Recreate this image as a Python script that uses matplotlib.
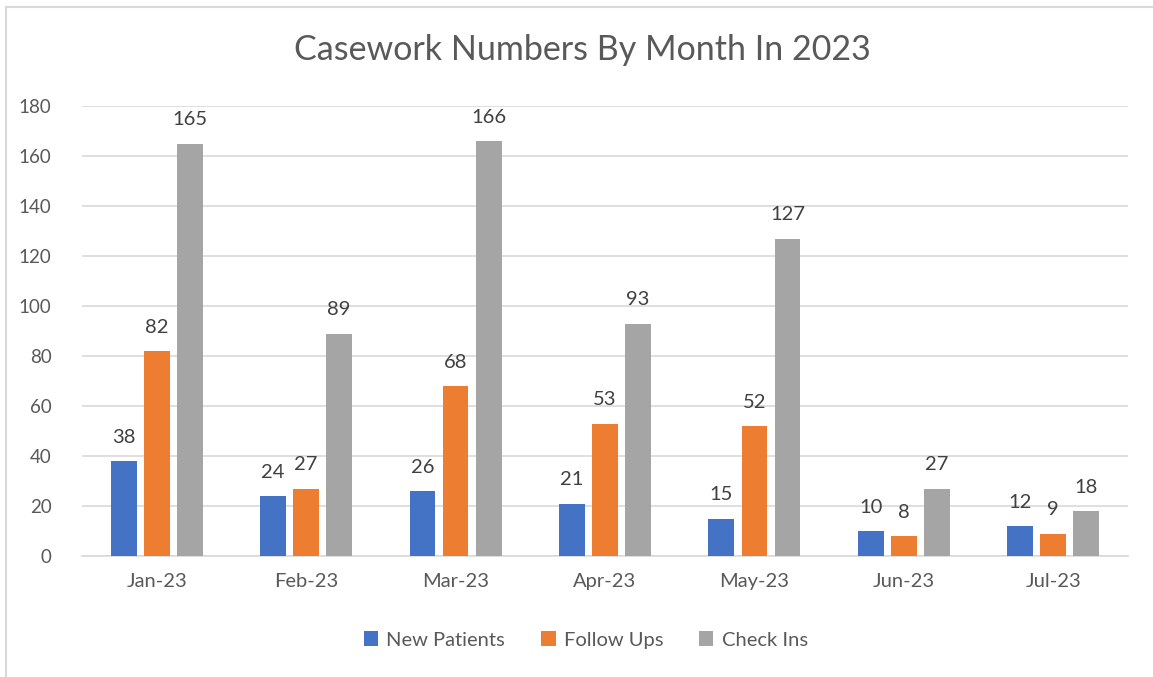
import matplotlib.pyplot as plt
import numpy as np
from matplotlib.lines import Line2D

months = ["Jan-23", "Feb-23", "Mar-23", "Apr-23", "May-23", "Jun-23", "Jul-23"]
new_patients = [38, 24, 26, 21, 15, 10, 12]
follow_ups = [82, 27, 68, 53, 52, 8, 9]
check_ins = [165, 89, 166, 93, 127, 27, 18]

series = [("New Patients", new_patients, "#4472C4"),
          ("Follow Ups", follow_ups, "#ED7D31"),
          ("Check Ins", check_ins, "#A5A5A5")]

plt.rcParams['font.family'] = ['Lato', 'DejaVu Sans']
txt = "#595959"

W, H = 1153, 677
fig = plt.figure(figsize=(W / 100, H / 100), dpi=100)
ax = fig.add_axes([82 / W, 1 - 556 / H, (1128 - 82) / W, (556 - 106) / H])

# chart border (only top and left edges visible in the reference)
fig.add_artist(Line2D([6 / W, 6 / W], [0, 1 - 7 / H], color="#D9D9D9", lw=1.5))
fig.add_artist(Line2D([6 / W, 1], [1 - 7 / H, 1 - 7 / H], color="#D9D9D9", lw=1.5))

x = np.arange(len(months))
width = 0.173
step = 0.221
for i, (name, vals, col) in enumerate(series):
    pos = x + (i - 1) * step
    bars = ax.bar(pos, vals, width, color=col, label=name, zorder=3)
    ax.bar_label(bars, padding=11, fontsize=14.5, color="#404040")

ax.set_xlim(-0.5, len(months) - 0.5)
ax.set_ylim(0, 180)
ax.set_yticks(range(0, 181, 20))
ax.set_xticks(x)
ax.set_xticklabels(months)
ax.tick_params(axis="y", length=0, labelsize=13.5, colors=txt, pad=22)
ax.tick_params(axis="x", length=0, labelsize=14.5, colors=txt, pad=12)
ax.grid(axis="y", color="#D9D9D9", lw=1.2, zorder=0)
for s in ["top", "right", "left"]:
    ax.spines[s].set_visible(False)
ax.spines["bottom"].set_color("#D9D9D9")
ax.spines["bottom"].set_linewidth(1.2)

fig.text(582 / W, 1 - 50 / H, "Casework Numbers By Month In 2023",
         ha="center", va="center", fontsize=24.5, color=txt)

fig.legend(loc="center", bbox_to_anchor=(586 / W, 1 - 640 / H), ncol=3,
           frameon=False, fontsize=14.5, handlelength=0.7, handleheight=0.7,
           handletextpad=0.4, columnspacing=1.8, labelcolor=txt)

fig.savefig("out.png", dpi=100)
